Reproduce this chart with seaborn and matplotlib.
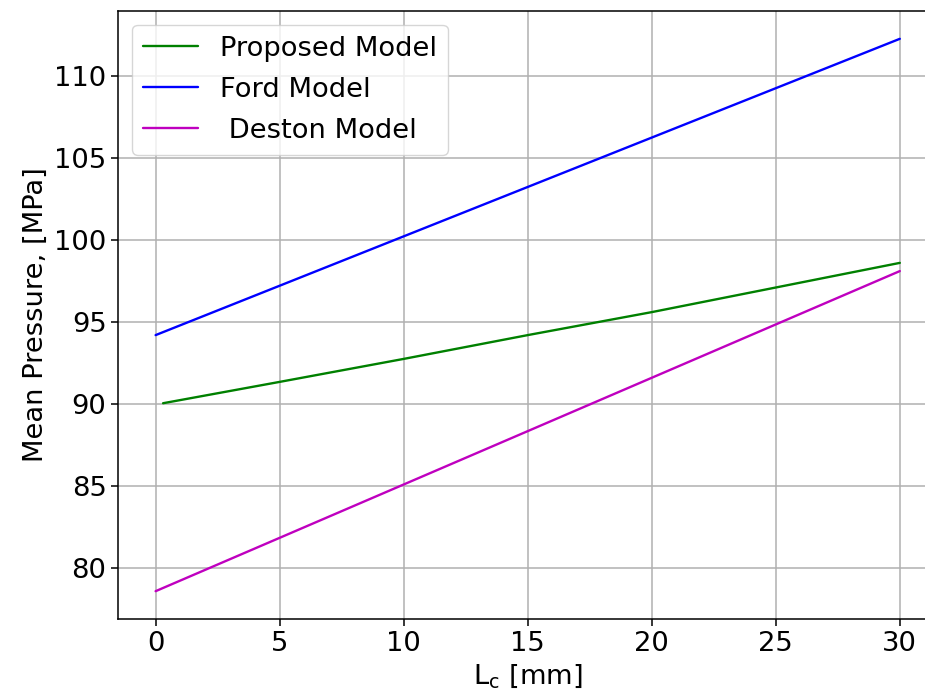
import matplotlib
matplotlib.use("Agg")
import pandas as pd
import seaborn as sns
import matplotlib.pyplot as plt

# Data
x_proposed = [0.3, 5, 10, 15, 20, 25, 30]
y_proposed = [90.05, 91.35, 92.75, 94.2, 95.6, 97.1, 98.6]

x_ford = [0, 30]
y_ford = [94.2, 112.25]

x_deston = [0, 30]
y_deston = [78.6, 98.1]

labels = ["Proposed Model", "Ford Model", " Deston Model"]
colors = ["g", "b", "m"]

sns.set_style("ticks")
plt.rcParams['font.family'] = ['DejaVu Sans']
plt.rcParams['text.color'] = 'black'
plt.rcParams['axes.labelcolor'] = 'black'
plt.rcParams['xtick.color'] = 'black'
plt.rcParams['ytick.color'] = 'black'
fs = 19.7

fig, ax = plt.subplots(figsize=(9.25, 7), dpi=100)
# the reference is cropped on the right, so the axes run past the edge
fig.subplots_adjust(left=0.128, right=1.013, top=0.984, bottom=0.116)

series = [(x_proposed, y_proposed), (x_ford, y_ford), (x_deston, y_deston)]
for (xs, ys), lab, c in zip(series, labels, colors):
    df = pd.DataFrame({"x": xs, "y": ys})
    sns.lineplot(data=df, x="x", y="y", color=c, label=lab, linewidth=1.7, ax=ax)

ax.set_xticks([0, 5, 10, 15, 20, 25, 30])
ax.set_yticks([80, 85, 90, 95, 100, 105, 110])
ax.grid(True, color="#b0b0b0", linewidth=1.1)
for s in ax.spines.values():
    s.set_visible(True)
    s.set_color("black")
    s.set_linewidth(1.1)
ax.tick_params(labelsize=fs, length=5, width=1.1)
ax.set_xlabel(r"L$_\mathrm{c}$ [mm]", fontsize=fs)
ax.set_ylabel("Mean Pressure, [MPa]", fontsize=fs)
ax.legend(loc="upper left", fontsize=fs, frameon=True, framealpha=0.8,
          edgecolor="#cccccc", labelspacing=0.55)

plt.savefig("out.png")
